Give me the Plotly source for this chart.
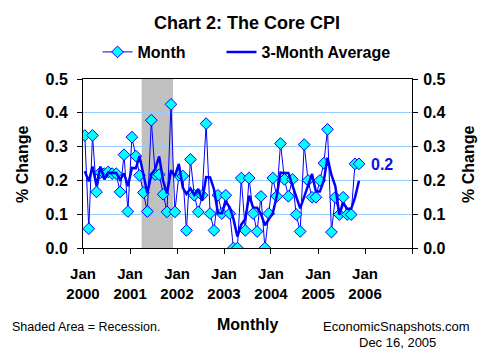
import pandas as pd
import plotly.graph_objects as go

# ---- data ----
start_month = "2000-01-01"
month_change = [
    0.333, 0.057, 0.333, 0.166, 0.223, 0.220, 0.225, 0.220, 0.220, 0.166, 0.276, 0.108,  # 2000
    0.328, 0.272, 0.215, 0.164, 0.108, 0.378, 0.217, 0.217, 0.159, 0.107, 0.425, 0.107,  # 2001
    0.215, 0.213, 0.052, 0.262, 0.156, 0.107, 0.156, 0.368, 0.102, 0.052, 0.156, 0.102,  # 2002
    0.156, 0.102, 0.000, 0.000, 0.207, 0.052, 0.207, 0.102, 0.049, 0.153, 0.000, 0.102,  # 2003
    0.207, 0.153, 0.309, 0.203, 0.153, 0.203, 0.099, 0.049, 0.306, 0.200, 0.150, 0.150,  # 2004
    0.200, 0.251, 0.351, 0.047, 0.150, 0.099, 0.150, 0.099, 0.099, 0.249, 0.249,         # 2005
]
three_month_avg = [
    0.227, 0.197, 0.241, 0.185, 0.241, 0.203, 0.223, 0.222, 0.222, 0.202, 0.221, 0.183,
    0.237, 0.236, 0.272, 0.217, 0.162, 0.217, 0.234, 0.271, 0.198, 0.161, 0.230, 0.213,
    0.249, 0.178, 0.160, 0.176, 0.157, 0.175, 0.140, 0.210, 0.209, 0.174, 0.103, 0.103,
    0.138, 0.120, 0.086, 0.034, 0.069, 0.086, 0.155, 0.120, 0.119, 0.101, 0.067, 0.085,
    0.103, 0.154, 0.223, 0.222, 0.222, 0.186, 0.152, 0.117, 0.151, 0.185, 0.219, 0.167,
    0.167, 0.200, 0.267, 0.216, 0.183, 0.099, 0.133, 0.116, 0.116, 0.149, 0.199,
]
recession_start = "2001-04-01"
recession_end = "2001-12-01"
tick_years = [2000, 2001, 2002, 2003, 2004, 2005, 2006, 2007]
y_ticks = [0.0, 0.1, 0.2, 0.3, 0.4, 0.5]
latest_label = "0.2"

dates = pd.date_range(start_month, periods=len(month_change), freq="MS") + pd.Timedelta(days=14)

FONT = "Liberation Sans, Arial, sans-serif"
BLUE = "#0000FF"

# page has an 8px body margin; figure is sized/offset to compensate
OFF = 8
W, H = 491 - OFF, 358 - OFF
PL, PR, PT, PB = 83, 412, 79, 248  # plot area in page pixels

fig = go.Figure()
fig.add_trace(go.Scatter(
    x=dates, y=month_change, name="Month", mode="lines+markers",
    line=dict(color=BLUE, width=1), legend="legend",
    marker=dict(symbol="diamond", size=9, color="#00FFFF", line=dict(color=BLUE, width=1)),
))
fig.add_trace(go.Scatter(
    x=dates, y=three_month_avg, name="3-Month Average", mode="lines",
    line=dict(color=BLUE, width=2.5), legend="legend2",
))
# invisible trace to drive the right-hand axis
fig.add_trace(go.Scatter(x=dates[:1], y=month_change[:1], yaxis="y2", mode="markers",
                         marker=dict(opacity=0), showlegend=False, hoverinfo="skip"))

fig.add_shape(type="rect", xref="x", yref="y", x0=recession_start, x1=recession_end,
              y0=0, y1=0.5, fillcolor="#C0C0C0", line=dict(width=0), layer="below")

tickvals = [f"{y}-01-01" for y in tick_years]
ticktext = [f"Jan<br>{y}" if y < 2007 else "" for y in tick_years]
ytext = [f"{v:.1f}" for v in y_ticks]

legend_common = dict(orientation="h", xanchor="left", y=(PB - 52) / (PB - PT), yanchor="middle",
                     font=dict(size=16, weight="bold", family=FONT), bgcolor="rgba(0,0,0,0)")

fig.update_layout(
    width=W, height=H,
    margin=dict(l=PL - OFF, r=W - (PR - OFF), t=PT - OFF, b=H - (PB - OFF), autoexpand=False),
    paper_bgcolor="white", plot_bgcolor="white",
    font=dict(family=FONT, color="black"),
    title=dict(text="Chart 2: The Core CPI", x=(247 - OFF) / W, xanchor="center",
               y=1 - (23 - OFF) / H, yanchor="middle",
               font=dict(size=18, weight="bold", family=FONT)),
    legend=dict(x=(97.5 - PL) / (PR - PL), **legend_common),
    legend2=dict(x=(221.5 - PL) / (PR - PL), **legend_common),
    xaxis=dict(
        type="date", range=["2000-01-01", "2007-01-01"], automargin=False,
        tickmode="array", tickvals=tickvals, ticktext=ticktext,
        ticks="outside", ticklen=5, tickcolor="black", ticklabelstandoff=7,
        showline=True, linecolor="black", linewidth=1, mirror=True,
        showgrid=False, zeroline=False,
        tickfont=dict(size=15, weight="bold", family=FONT),
    ),
    yaxis=dict(
        range=[0, 0.5], tickmode="array", tickvals=y_ticks, ticktext=ytext, automargin=False,
        ticks="outside", ticklen=5, tickcolor="black", ticklabelstandoff=6,
        showline=True, linecolor="black", linewidth=1, mirror=True,
        showgrid=True, gridcolor="#99CCFF", gridwidth=1, zeroline=False,
        tickfont=dict(size=16, weight="bold", family=FONT),
    ),
    yaxis2=dict(
        range=[0, 0.5], overlaying="y", side="right", tickmode="array", automargin=False,
        tickvals=y_ticks, ticktext=ytext, ticks="outside", ticklen=5, tickcolor="black",
        ticklabelstandoff=2,
        showgrid=False, zeroline=False, showline=False,
        tickfont=dict(size=16, weight="bold", family=FONT),
    ),
    showlegend=True,
)

ann = [
    dict(text="% Change", x=22, y=165, textangle=-90, font=dict(size=16, weight="bold")),
    dict(text="% Change", x=468, y=165, textangle=-90, font=dict(size=16, weight="bold")),
    dict(text="Monthly", x=247, y=324, font=dict(size=16, weight="bold")),
    dict(text="Shaded Area = Recession.", x=10, y=327, xanchor="left", font=dict(size=12.5)),
    dict(text="EconomicSnapshots.com", x=396, y=326, font=dict(size=13)),
    dict(text="Dec 16, 2005", x=397, y=342, font=dict(size=13)),
]
for a in ann:
    fig.add_annotation(
        text=a["text"], xref="paper", yref="paper",
        x=(a["x"] - PL) / (PR - PL), y=(PB - a["y"]) / (PB - PT),
        xanchor=a.get("xanchor", "center"), yanchor="middle",
        textangle=a.get("textangle", 0), showarrow=False,
        font=dict(family=FONT, color="black", **a["font"]),
    )
fig.add_annotation(text=latest_label, xref="paper", yref="paper",
                   x=(369 - PL) / (PR - PL), y=(PB - 164) / (PB - PT), xanchor="left", yanchor="middle",
                   showarrow=False, font=dict(family=FONT, size=16, weight="bold", color="#1010E0"))

fig.write_html("out.html")
